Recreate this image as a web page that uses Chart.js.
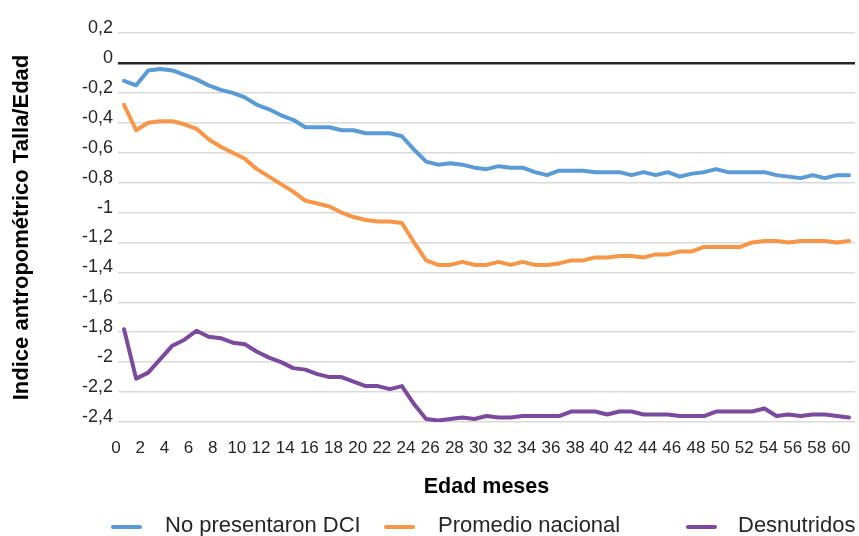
<!DOCTYPE html>
<html lang="es">
<head>
<meta charset="utf-8">
<title>Indice antropométrico Talla/Edad</title>
<script src="https://cdn.jsdelivr.net/npm/chart.js@4/dist/chart.umd.min.js"></script>
<style>
  html, body { margin: 0; padding: 0; background: #ffffff; }
  #wrap { position: relative; width: 859px; height: 536px; }
</style>
</head>
<body>
<div id="wrap"><canvas id="chart" width="859" height="536"></canvas></div>
<script>
// Age in months (one point per month)
const months = [0, 1, 2, 3, 4, 5, 6, 7, 8, 9, 10, 11, 12, 13, 14, 15, 16, 17, 18, 19, 20,
  21, 22, 23, 24, 25, 26, 27, 28, 29, 30, 31, 32, 33, 34, 35, 36, 37, 38, 39, 40,
  41, 42, 43, 44, 45, 46, 47, 48, 49, 50, 51, 52, 53, 54, 55, 56, 57, 58, 59, 60];

// Height-for-age index by group
const noDci = [-0.12, -0.15, -0.05, -0.04, -0.05, -0.08, -0.11, -0.15, -0.18, -0.20,
  -0.23, -0.28, -0.31, -0.35, -0.38, -0.43, -0.43, -0.43, -0.45, -0.45,
  -0.47, -0.47, -0.47, -0.49, -0.58, -0.66, -0.68, -0.67, -0.68, -0.70,
  -0.71, -0.69, -0.70, -0.70, -0.73, -0.75, -0.72, -0.72, -0.72, -0.73,
  -0.73, -0.73, -0.75, -0.73, -0.75, -0.73, -0.76, -0.74, -0.73, -0.71,
  -0.73, -0.73, -0.73, -0.73, -0.75, -0.76, -0.77, -0.75, -0.77, -0.75,
  -0.75];

const nationalAverage = [-0.28, -0.45, -0.40, -0.39, -0.39, -0.41, -0.44, -0.51, -0.56, -0.60,
  -0.64, -0.71, -0.76, -0.81, -0.86, -0.92, -0.94, -0.96, -1.00, -1.03,
  -1.05, -1.06, -1.06, -1.07, -1.20, -1.32, -1.35, -1.35, -1.33, -1.35,
  -1.35, -1.33, -1.35, -1.33, -1.35, -1.35, -1.34, -1.32, -1.32, -1.30,
  -1.30, -1.29, -1.29, -1.30, -1.28, -1.28, -1.26, -1.26, -1.23, -1.23,
  -1.23, -1.23, -1.20, -1.19, -1.19, -1.20, -1.19, -1.19, -1.19, -1.20,
  -1.19];

const undernourished = [-1.78, -2.11, -2.07, -1.98, -1.89, -1.85, -1.79, -1.83, -1.84, -1.87,
  -1.88, -1.93, -1.97, -2.00, -2.04, -2.05, -2.08, -2.10, -2.10, -2.13,
  -2.16, -2.16, -2.18, -2.16, -2.28, -2.38, -2.39, -2.38, -2.37, -2.38,
  -2.36, -2.37, -2.37, -2.36, -2.36, -2.36, -2.36, -2.33, -2.33, -2.33,
  -2.35, -2.33, -2.33, -2.35, -2.35, -2.35, -2.36, -2.36, -2.36, -2.33,
  -2.33, -2.33, -2.33, -2.31, -2.36, -2.35, -2.36, -2.35, -2.35, -2.36,
  -2.37];

const seriesNames = ['No presentaron DCI', 'Promedio nacional', 'Desnutridos'];

// Axis ticks
const xTickValues = [0, 2, 4, 6, 8, 10, 12, 14, 16, 18, 20, 22, 24, 26, 28, 30,
  32, 34, 36, 38, 40, 42, 44, 46, 48, 50, 52, 54, 56, 58, 60];
const xTickLabels = ['0', '2', '4', '6', '8', '10', '12', '14', '16', '18', '20', '22', '24', '26', '28', '30',
  '32', '34', '36', '38', '40', '42', '44', '46', '48', '50', '52', '54', '56', '58', '60'];
const yTickValues = [-2.4, -2.2, -2, -1.8, -1.6, -1.4, -1.2, -1, -0.8, -0.6, -0.4, -0.2, 0, 0.2];
const yTickLabels = ['-2,4', '-2,2', '-2', '-1,8', '-1,6', '-1,4', '-1,2', '-1', '-0,8', '-0,6', '-0,4', '-0,2', '0', '0,2'];

const FONT = "'Liberation Sans', Arial, sans-serif";
const TEXT = '#262626';
const COLORS = ['#5B9BD5', '#F79646', '#7B4A9E'];

function pairs(values) {
  return months.map((m, i) => ({ x: m, y: values[i] }));
}

// Legend row under the axis title: a short line sample followed by the series name
const lineLegend = {
  id: 'lineLegend',
  afterDraw(chart, args, opts) {
    const ctx = chart.ctx;
    ctx.save();
    ctx.font = opts.font;
    ctx.textBaseline = 'middle';
    ctx.textAlign = 'left';
    chart.data.datasets.forEach((ds, i) => {
      const item = opts.items[i];
      ctx.strokeStyle = ds.borderColor;
      ctx.lineWidth = 4;
      ctx.lineCap = 'round';
      ctx.beginPath();
      ctx.moveTo(item.x, opts.y);
      ctx.lineTo(item.x + opts.sample, opts.y);
      ctx.stroke();
      ctx.fillStyle = opts.color;
      ctx.fillText(ds.label, item.textX, opts.textY);
    });
    ctx.restore();
  }
};

const isZero = v => Math.abs(v) < 1e-9;

new Chart(document.getElementById('chart'), {
  type: 'line',
  data: {
    datasets: [
      { label: seriesNames[0], data: pairs(noDci), borderColor: COLORS[0], backgroundColor: COLORS[0] },
      { label: seriesNames[1], data: pairs(nationalAverage), borderColor: COLORS[1], backgroundColor: COLORS[1] },
      { label: seriesNames[2], data: pairs(undernourished), borderColor: COLORS[2], backgroundColor: COLORS[2] }
    ]
  },
  options: {
    responsive: false,
    animation: false,
    devicePixelRatio: 1,
    layout: { padding: { top: 33, right: 4, bottom: 34, left: 0 } },
    elements: {
      point: { radius: 0, hoverRadius: 0 },
      line: { borderWidth: 4, tension: 0, borderCapStyle: 'round', borderJoinStyle: 'round', fill: false }
    },
    plugins: {
      legend: { display: false },
      tooltip: { enabled: false },
      lineLegend: {
        items: [{ x: 113, textX: 165 }, { x: 386, textX: 438 }, { x: 688, textX: 738 }],
        sample: 27,
        y: 527,
        textY: 526,
        font: "22px " + FONT,
        color: TEXT
      }
    },
    scales: {
      x: {
        type: 'linear',
        min: -0.5,
        max: 60.5,
        afterBuildTicks: s => { s.ticks = xTickValues.map(v => ({ value: v })); },
        afterFit: s => { s.height = 80; s.paddingLeft = 0; s.paddingRight = 0; },
        ticks: {
          autoSkip: false,
          maxRotation: 0,
          minRotation: 0,
          padding: 16,
          labelOffset: -8,
          color: TEXT,
          font: { family: FONT, size: 17 },
          callback: (v, i) => xTickLabels[i]
        },
        grid: { display: false, drawTicks: false },
        border: { display: false },
        title: {
          display: true,
          text: 'Edad meses',
          color: '#000000',
          font: { family: FONT, size: 21.5, weight: 'bold' },
          padding: { top: 0, bottom: 2 }
        }
      },
      y: {
        type: 'linear',
        min: -2.4,
        max: 0.2,
        afterBuildTicks: s => { s.ticks = yTickValues.map(v => ({ value: v })); },
        afterFit: s => { s.width = 118; },
        ticks: {
          padding: 5,
          labelOffset: -5,
          color: TEXT,
          font: { family: FONT, size: 18 },
          callback: (v, i) => yTickLabels[i]
        },
        grid: {
          drawTicks: false,
          color: c => (c.tick && isZero(c.tick.value)) ? '#262626' : '#d9d9d9',
          lineWidth: c => (c.tick && isZero(c.tick.value)) ? 2.5 : 1.5
        },
        border: { display: false },
        title: {
          display: true,
          text: 'Indice antropométrico Talla/Edad',
          color: '#000000',
          font: { family: FONT, size: 22, weight: 'bold' },
          padding: { top: 9, bottom: 0 }
        }
      }
    }
  },
  plugins: [lineLegend]
});
</script>
</body>
</html>
